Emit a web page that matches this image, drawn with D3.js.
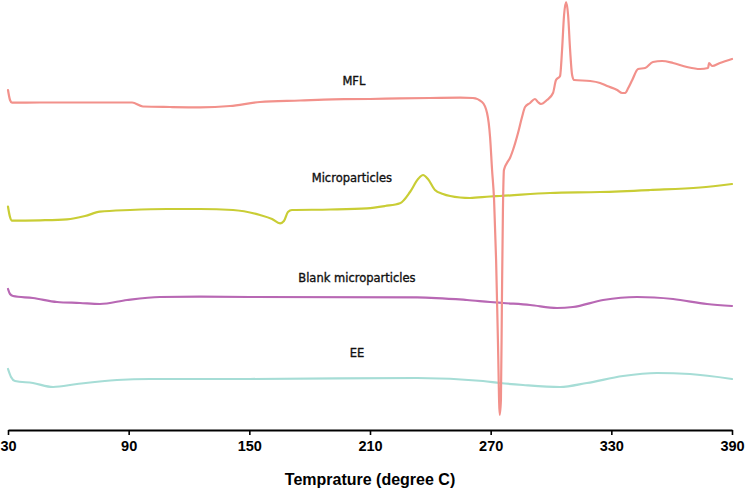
<!DOCTYPE html>
<html>
<head>
<meta charset="utf-8">
<script src="https://cdn.jsdelivr.net/npm/d3@7"></script>
<style>
  html, body { margin: 0; padding: 0; background: #fff; }
  svg { display: block; }
</style>
</head>
<body>
<svg id="chart" width="745" height="488"></svg>
<script>
// Temperature ticks (degree C)
const xTicks = [30, 90, 150, 210, 270, 330, 390];

// DSC traces: [temperature, heat flow (arbitrary units, stacked)]
const mfl = [
  [30,34.0],[31,33.0],[32,32.73],[45.9,32.75],[91.7,32.75],[97.1,32.35],[110.6,32.3],
  [125.5,32.27],[140.4,32.4],[155.3,32.8],[175.2,32.95],[191.6,33.07],[210,33.1],
  [224.9,33.17],[239.8,33.2],[254.8,33.23],[261.2,33.2],[265.7,32.8],[268.2,31.7],
  [269.7,29.3],[270.7,26.0],[271.7,23.0],[272.7,17.0],[273.6,9.0],[274.5,1.5],
  [275.1,3.0],[275.6,13.0],[276.1,22.0],[276.6,26.0],[278.1,26.7],[279.6,27.2],
  [281.1,28.0],[283.6,29.7],[285.6,31.3],[287.1,32.3],[289.6,32.7],[292.0,33.1],
  [293.5,32.8],[295.0,32.6],[298.0,33.0],[301.0,33.7],[302.5,35.0],
  [304.5,35.4],[305.5,38.0],[306.5,41.5],[307.5,42.8],[308.5,41.5],[309.5,38.0],
  [310.5,35.5],[311.5,35.0],[319.5,34.9],[324.4,34.7],[327.9,34.4],[332.9,34.0],
  [335.4,33.7],[336.9,33.7],[338.4,34.2],[340.4,35.0],[343.3,36.1],[346.8,36.2],
  [350.7,36.8],[355.2,36.9],[360.7,36.7],[367.6,36.3],[374.1,36.1],[378.1,36.2],
  [378.6,36.7],[380.1,36.4],[384.0,36.7],[390,37.1]
];
const microparticles = [
  [30,22.33],[31,21.3],[32,20.93],[45.9,20.97],[59.3,21.07],[68.3,21.4],[75.7,21.83],
  [90.7,22.0],[109.1,22.1],[125.5,22.1],[141.9,22.0],[155.3,21.5],[161.3,21.1],
  [165.3,20.67],[167.2,20.9],[169.2,21.8],[171.2,22.0],[190.1,22.05],[208.5,22.17],
  [217.5,22.4],[224.9,22.67],[229.9,23.8],[233.9,25.1],[236.4,25.5],[238.8,25.1],
  [242.3,24.0],[246.3,23.6],[254.8,23.25],[259.7,23.2],[269.7,23.35],[274.6,23.4],
  [299.5,23.7],[324.4,23.8],[349.2,24.0],[374.1,24.25],[390,24.6]
];
const blank = [
  [30,14.1],[31,13.6],[32.5,13.4],[42.4,13.2],[54.4,12.8],[65.8,12.7],[75.7,12.6],
  [89.2,13.0],[105.6,13.3],[125.5,13.33],[150.3,13.3],[233.4,13.27],[258.2,13.0],
  [269.7,12.8],[276.1,12.7],[289.6,12.5],[303.0,12.2],[310.9,12.3],[325.9,13.0],
  [342.8,13.3],[360.7,13.1],[377.6,12.6],[390,12.4]
];
const ee = [
  [30,6.1],[31.5,5.3],[33.5,4.9],[42.4,4.7],[52.4,4.3],[64.3,4.6],[84.2,5.0],
  [100.6,5.1],[150.3,5.1],[233.4,5.2],[266.2,4.9],[274.6,4.7],[286.1,4.5],
  [304.5,4.3],[317.9,4.7],[335.8,5.4],[352.7,5.7],[369.1,5.6],[390,5.1]
];

const seriesNames = ["MFL", "Microparticles", "Blank microparticles", "EE"];
const seriesData = [mfl, microparticles, blank, ee];
const seriesColors = ["#f2918b", "#c9cd35", "#b868b4", "#a6ddd6"];
// label anchor [temperature, heat flow]
const labelPos = [[202.0, 34.5], [201.0, 24.8], [203.5, 14.8], [203.5, 7.3]];

const svg = d3.select("#chart");
const x = d3.scaleLinear().domain([30, 390]).range([8, 732]);
const y = d3.scaleLinear().domain([0, 43]).range([430, 0]);

const line = d3.line()
  .x(d => x(d[0]))
  .y(d => y(d[1]))
  .curve(d3.curveMonotoneX);

// draw in order so MFL dip is on top
const order = [3, 2, 1, 0];
order.forEach(i => {
  svg.append("path")
    .datum(seriesData[i])
    .attr("fill", "none")
    .attr("stroke", seriesColors[i])
    .attr("stroke-width", 2.2)
    .attr("stroke-linejoin", "round")
    .attr("stroke-linecap", "round")
    .attr("d", line);
});

seriesNames.forEach((name, i) => {
  svg.append("text")
    .attr("x", x(labelPos[i][0]))
    .attr("y", y(labelPos[i][1]))
    .attr("text-anchor", "middle")
    .attr("font-family", "DejaVu Sans, sans-serif")
    .attr("font-size", 11.5)
    .attr("fill", "#111")
    .attr("stroke", "#111")
    .attr("stroke-width", 0.35)
    .text(name);
});

// x axis
const axis = d3.axisBottom(x).tickValues(xTicks).tickSize(5).tickSizeOuter(0).tickPadding(6);
const gx = svg.append("g")
  .attr("transform", `translate(0,${y(0)})`)
  .call(axis);
gx.select(".domain").attr("stroke", "#000").attr("stroke-width", 2);
gx.selectAll(".tick line").attr("stroke", "#000").attr("stroke-width", 1.6);
gx.selectAll(".tick text")
  .attr("font-family", "Liberation Sans, Arial, sans-serif")
  .attr("font-weight", "bold")
  .attr("font-size", 14.5)
  .attr("fill", "#000");

svg.append("text")
  .attr("x", x(210))
  .attr("y", 485)
  .attr("text-anchor", "middle")
  .attr("font-family", "Liberation Sans, Arial, sans-serif")
  .attr("font-weight", "bold")
  .attr("font-size", 16)
  .attr("fill", "#000")
  .text("Temprature (degree C)");
</script>
</body>
</html>
